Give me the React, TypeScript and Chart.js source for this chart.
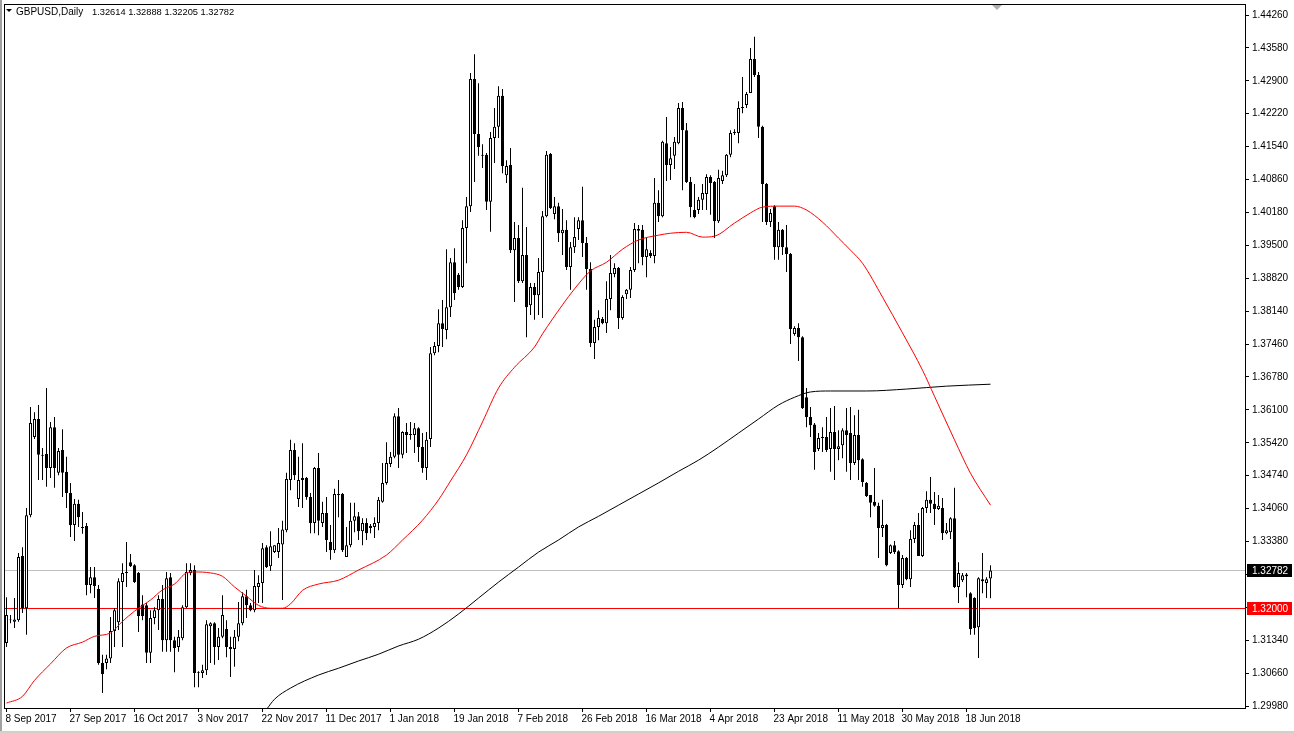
import React, { useEffect, useRef } from 'react';
import { Chart, registerables } from 'chart.js';

Chart.register(...registerables);

const symbolTitle = 'GBPUSD,Daily';
const headerValues = ['1.32614', '1.32888', '1.32205', '1.32782'];

const dateLabels = [
  '8 Sep 2017', '27 Sep 2017', '16 Oct 2017', '3 Nov 2017', '22 Nov 2017', '11 Dec 2017',
  '1 Jan 2018', '19 Jan 2018', '7 Feb 2018', '26 Feb 2018', '16 Mar 2018', '4 Apr 2018',
  '23 Apr 2018', '11 May 2018', '30 May 2018', '18 Jun 2018',
];
const barsPerLabel = 16;

const priceTicks = [
  1.2998, 1.3066, 1.3134, 1.3202, 1.327, 1.3338, 1.3406, 1.3474, 1.3542, 1.361, 1.3678,
  1.3746, 1.3814, 1.3882, 1.395, 1.4018, 1.4086, 1.4154, 1.4222, 1.429, 1.4358, 1.4426,
];

const opens = [
  1.3128, 1.3175, 1.3172, 1.3175, 1.3308, 1.3200, 1.3392, 1.3554, 1.3591, 1.3517,
  1.3519, 1.3490, 1.3574, 1.3480, 1.3527, 1.3482, 1.3438, 1.3372, 1.3416, 1.3368,
  1.3370, 1.3248, 1.3264, 1.3240, 1.3087, 1.3087, 1.3096, 1.3153, 1.3171, 1.3254,
  1.3273, 1.3295, 1.3289, 1.3273, 1.3208, 1.3206, 1.3108, 1.3180, 1.3196, 1.3219,
  1.3134, 1.3264, 1.3134, 1.3120, 1.3138, 1.3202, 1.3273, 1.3279, 1.3068, 1.3066,
  1.3072, 1.3163, 1.3169, 1.3120, 1.3141, 1.3157, 1.3120, 1.3116, 1.3141, 1.3169,
  1.3225, 1.3206, 1.3196, 1.3244, 1.3252, 1.3326, 1.3287, 1.3316, 1.3316, 1.3332,
  1.3361, 1.3465, 1.3527, 1.3426, 1.3465, 1.3469, 1.3430, 1.3376, 1.3490, 1.3376,
  1.3397, 1.3337, 1.3320, 1.3436, 1.3436, 1.3306, 1.3330, 1.3381, 1.3390, 1.3359,
  1.3376, 1.3366, 1.3368, 1.3376, 1.3420, 1.3459, 1.3498, 1.3513, 1.3597, 1.3517,
  1.3564, 1.3558, 1.3558, 1.3572, 1.3533, 1.3490, 1.3550, 1.3727, 1.3742, 1.3789,
  1.3775, 1.3822, 1.3915, 1.3889, 1.3864, 1.3986, 1.4031, 1.4294, 1.4180, 1.4137,
  1.4137, 1.4040, 1.4172, 1.4195, 1.4259, 1.4095, 1.4116, 1.3940, 1.3965, 1.3876,
  1.3930, 1.3826, 1.3864, 1.3847, 1.3895, 1.4010, 1.4139, 1.4015, 1.4031, 1.3975,
  1.3982, 1.3905, 1.3946, 1.3984, 1.4002, 1.3955, 1.3901, 1.3748, 1.3781, 1.3798,
  1.3789, 1.3839, 1.3891, 1.3903, 1.3800, 1.3849, 1.3858, 1.3899, 1.3984, 1.3982,
  1.3926, 1.3934, 1.3928, 1.4038, 1.4010, 1.4161, 1.4116, 1.4135, 1.4161, 1.4234,
  1.4188, 1.4081, 1.4023, 1.4023, 1.4044, 1.4056, 1.4091, 1.4081, 1.4000, 1.4083,
  1.4095, 1.4137, 1.4182, 1.4182, 1.4234, 1.4240, 1.4265, 1.4335, 1.4302, 1.4195,
  1.4077, 1.3998, 1.4031, 1.3946, 1.3982, 1.3946, 1.3932, 1.3767, 1.3779, 1.3760,
  1.3636, 1.3595, 1.3580, 1.3529, 1.3552, 1.3554, 1.3529, 1.3564, 1.3529, 1.3537,
  1.3568, 1.3562, 1.3500, 1.3558, 1.3508, 1.3459, 1.3434, 1.3420, 1.3412, 1.3366,
  1.3372, 1.3314, 1.3330, 1.3318, 1.3248, 1.3304, 1.3260, 1.3343, 1.3372, 1.3308,
  1.3407, 1.3424, 1.3416, 1.3405, 1.3407, 1.3355, 1.3357, 1.3386, 1.3244, 1.3258,
  1.3270, 1.3231, 1.3221, 1.3161, 1.3256, 1.3252, 1.32614,
];
const highs = [
  1.3223, 1.3186, 1.3221, 1.3314, 1.3326, 1.3407, 1.3616, 1.3605, 1.3620, 1.3531,
  1.3655, 1.3585, 1.3595, 1.3531, 1.3570, 1.3513, 1.3459, 1.3426, 1.3424, 1.3399,
  1.3376, 1.3285, 1.3285, 1.3248, 1.3104, 1.3104, 1.3182, 1.3200, 1.3262, 1.3293,
  1.3337, 1.3312, 1.3291, 1.3275, 1.3227, 1.3211, 1.3196, 1.3202, 1.3227, 1.3248,
  1.3275, 1.3273, 1.3141, 1.3155, 1.3206, 1.3293, 1.3293, 1.3289, 1.3070, 1.3083,
  1.3175, 1.3171, 1.3171, 1.3159, 1.3227, 1.3175, 1.3141, 1.3155, 1.3213, 1.3233,
  1.3238, 1.3211, 1.3279, 1.3268, 1.3335, 1.3330, 1.3359, 1.3330, 1.3366, 1.3381,
  1.3480, 1.3548, 1.3541, 1.3513, 1.3541, 1.3471, 1.3438, 1.3492, 1.3521, 1.3420,
  1.3430, 1.3372, 1.3447, 1.3465, 1.3438, 1.3368, 1.3418, 1.3418, 1.3399, 1.3386,
  1.3386, 1.3374, 1.3388, 1.3430, 1.3500, 1.3543, 1.3523, 1.3603, 1.3614, 1.3566,
  1.3583, 1.3585, 1.3583, 1.3574, 1.3562, 1.3564, 1.3740, 1.3750, 1.3818, 1.3837,
  1.3942, 1.3924, 1.3944, 1.3893, 1.4002, 1.4050, 1.4306, 1.4345, 1.4285, 1.4159,
  1.4141, 1.4184, 1.4234, 1.4279, 1.4273, 1.4126, 1.4151, 1.3998, 1.3992, 1.4069,
  1.3988, 1.3872, 1.3872, 1.3924, 1.4021, 1.4145, 1.4141, 1.4050, 1.4038, 1.4025,
  1.4002, 1.3957, 1.4008, 1.4008, 1.4071, 1.3967, 1.3915, 1.3796, 1.3816, 1.3802,
  1.3876, 1.3930, 1.3913, 1.3905, 1.3847, 1.3860, 1.3905, 1.3996, 1.3992, 1.3992,
  1.3967, 1.3940, 1.4089, 1.4064, 1.4166, 1.4215, 1.4153, 1.4174, 1.4244, 1.4246,
  1.4203, 1.4091, 1.4077, 1.4050, 1.4077, 1.4097, 1.4095, 1.4083, 1.4106, 1.4104,
  1.4139, 1.4188, 1.4190, 1.4248, 1.4298, 1.4267, 1.4358, 1.4381, 1.4308, 1.4197,
  1.4079, 1.4025, 1.4033, 1.3998, 1.3984, 1.3992, 1.3934, 1.3783, 1.3789, 1.3762,
  1.3655, 1.3616, 1.3583, 1.3562, 1.3574, 1.3595, 1.3614, 1.3618, 1.3568, 1.3572,
  1.3614, 1.3616, 1.3599, 1.3610, 1.3510, 1.3461, 1.3434, 1.3490, 1.3418, 1.3424,
  1.3374, 1.3332, 1.3339, 1.3320, 1.3310, 1.3306, 1.3361, 1.3378, 1.3397, 1.3409,
  1.3442, 1.3471, 1.3440, 1.3434, 1.3428, 1.3376, 1.3388, 1.3449, 1.3295, 1.3273,
  1.3273, 1.3233, 1.3223, 1.3264, 1.3314, 1.3264, 1.32888,
];
const lows = [
  1.3120, 1.3169, 1.3159, 1.3172, 1.3190, 1.3145, 1.3388, 1.3550, 1.3465, 1.3465,
  1.3451, 1.3469, 1.3449, 1.3475, 1.3430, 1.3407, 1.3347, 1.3339, 1.3368, 1.3354,
  1.3227, 1.3231, 1.3221, 1.3083, 1.3025, 1.3074, 1.3087, 1.3120, 1.3155, 1.3120,
  1.3244, 1.3285, 1.3252, 1.3151, 1.3175, 1.3087, 1.3087, 1.3167, 1.3155, 1.3110,
  1.3110, 1.3110, 1.3068, 1.3110, 1.3134, 1.3200, 1.3268, 1.3037, 1.3037, 1.3056,
  1.3062, 1.3087, 1.3083, 1.3093, 1.3138, 1.3099, 1.3058, 1.3079, 1.3132, 1.3165,
  1.3180, 1.3194, 1.3192, 1.3211, 1.3211, 1.3283, 1.3277, 1.3314, 1.3304, 1.3217,
  1.3357, 1.3444, 1.3465, 1.3409, 1.3407, 1.3424, 1.3355, 1.3355, 1.3351, 1.3368,
  1.3316, 1.3300, 1.3314, 1.3388, 1.3316, 1.3306, 1.3326, 1.3357, 1.3341, 1.3330,
  1.3341, 1.3355, 1.3345, 1.3361, 1.3418, 1.3455, 1.3492, 1.3510, 1.3490, 1.3510,
  1.3521, 1.3548, 1.3521, 1.3502, 1.3480, 1.3465, 1.3533, 1.3723, 1.3729, 1.3740,
  1.3756, 1.3802, 1.3837, 1.3858, 1.3862, 1.3913, 1.4019, 1.4081, 1.4135, 1.4110,
  1.4023, 1.3978, 1.4120, 1.4172, 1.4099, 1.4079, 1.3934, 1.3833, 1.3872, 1.3872,
  1.3760, 1.3806, 1.3796, 1.3806, 1.3800, 1.4008, 1.4025, 1.4004, 1.3957, 1.3930,
  1.3899, 1.3858, 1.3934, 1.3961, 1.3926, 1.3858, 1.3740, 1.3715, 1.3754, 1.3787,
  1.3769, 1.3816, 1.3884, 1.3777, 1.3796, 1.3839, 1.3841, 1.3895, 1.3913, 1.3909,
  1.3884, 1.3924, 1.3913, 1.3998, 1.4008, 1.4083, 1.4085, 1.4108, 1.4159, 1.4064,
  1.4079, 1.4008, 1.4006, 1.4015, 1.4023, 1.4023, 1.4013, 1.3965, 1.3996, 1.4077,
  1.4091, 1.4132, 1.4178, 1.4161, 1.4223, 1.4234, 1.4265, 1.4298, 1.4172, 1.3998,
  1.3992, 1.3988, 1.3920, 1.3920, 1.3930, 1.3895, 1.3746, 1.3763, 1.3711, 1.3612,
  1.3574, 1.3554, 1.3486, 1.3525, 1.3523, 1.3523, 1.3482, 1.3465, 1.3506, 1.3510,
  1.3482, 1.3465, 1.3496, 1.3465, 1.3451, 1.3430, 1.3388, 1.3410, 1.3304, 1.3347,
  1.3287, 1.3312, 1.3312, 1.3200, 1.3242, 1.3258, 1.3244, 1.3335, 1.3308, 1.3306,
  1.3397, 1.3397, 1.3372, 1.3403, 1.3341, 1.3353, 1.3343, 1.3242, 1.3211, 1.3254,
  1.3223, 1.3145, 1.3145, 1.3097, 1.3231, 1.3221, 1.32205,
];
const closes = [
  1.3186, 1.3177, 1.3177, 1.3306, 1.3200, 1.3392, 1.3583, 1.3591, 1.3517, 1.3515,
  1.3490, 1.3574, 1.3490, 1.3525, 1.3480, 1.3438, 1.3372, 1.3416, 1.3388, 1.3366,
  1.3248, 1.3264, 1.3246, 1.3087, 1.3064, 1.3096, 1.3153, 1.3196, 1.3256, 1.3273,
  1.3275, 1.3287, 1.3254, 1.3184, 1.3184, 1.3108, 1.3180, 1.3196, 1.3219, 1.3134,
  1.3262, 1.3134, 1.3118, 1.3141, 1.3202, 1.3275, 1.3279, 1.3066, 1.3066, 1.3072,
  1.3167, 1.3169, 1.3120, 1.3141, 1.3186, 1.3120, 1.3116, 1.3141, 1.3169, 1.3225,
  1.3206, 1.3196, 1.3246, 1.3252, 1.3324, 1.3285, 1.3328, 1.3330, 1.3335, 1.3363,
  1.3467, 1.3527, 1.3475, 1.3465, 1.3469, 1.3430, 1.3376, 1.3490, 1.3381, 1.3397,
  1.3341, 1.3320, 1.3436, 1.3434, 1.3320, 1.3330, 1.3381, 1.3390, 1.3359, 1.3376,
  1.3355, 1.3370, 1.3376, 1.3424, 1.3459, 1.3500, 1.3513, 1.3597, 1.3517, 1.3564,
  1.3558, 1.3560, 1.3572, 1.3533, 1.3490, 1.3548, 1.3727, 1.3742, 1.3789, 1.3777,
  1.3822, 1.3915, 1.3851, 1.3864, 1.3986, 1.4031, 1.4294, 1.4180, 1.4153, 1.4135,
  1.4040, 1.4172, 1.4195, 1.4259, 1.4114, 1.4114, 1.3940, 1.3965, 1.3876, 1.3930,
  1.3822, 1.3864, 1.3847, 1.3895, 1.4010, 1.4137, 1.4027, 1.4031, 1.3975, 1.3982,
  1.3905, 1.3946, 1.3967, 1.4002, 1.3955, 1.3901, 1.3748, 1.3781, 1.3800, 1.3789,
  1.3839, 1.3893, 1.3903, 1.3800, 1.3843, 1.3858, 1.3899, 1.3984, 1.3980, 1.3926,
  1.3942, 1.3928, 1.4038, 1.4010, 1.4164, 1.4116, 1.4130, 1.4164, 1.4234, 1.4188,
  1.4081, 1.4029, 1.4008, 1.4044, 1.4058, 1.4091, 1.4079, 1.4000, 1.4089, 1.4095,
  1.4137, 1.4182, 1.4184, 1.4234, 1.4236, 1.4263, 1.4335, 1.4302, 1.4195, 1.4077,
  1.3998, 1.4017, 1.3946, 1.3982, 1.3946, 1.3932, 1.3777, 1.3779, 1.3760, 1.3614,
  1.3595, 1.3578, 1.3523, 1.3552, 1.3554, 1.3527, 1.3564, 1.3529, 1.3535, 1.3568,
  1.3558, 1.3500, 1.3558, 1.3506, 1.3461, 1.3432, 1.3418, 1.3412, 1.3366, 1.3372,
  1.3289, 1.3330, 1.3316, 1.3248, 1.3304, 1.3260, 1.3343, 1.3372, 1.3308, 1.3407,
  1.3424, 1.3416, 1.3405, 1.3412, 1.3355, 1.3361, 1.3386, 1.3244, 1.3273, 1.3268,
  1.3266, 1.3157, 1.3159, 1.3262, 1.3260, 1.3260, 1.32782,
];

// Moving averages at sample bars
const fastMaBars = [
  0, 4, 7, 11, 15, 19, 22, 26, 29, 32, 36, 39, 42, 45, 47, 51, 54, 57, 60, 63, 66, 69, 71, 74,
  78, 83, 88, 95, 99, 104, 108, 111, 115, 119, 123, 127, 132, 134, 139, 142, 146, 150, 154,
  158, 163, 166, 170, 174, 177, 182, 186, 189, 193, 197, 200, 204, 208, 211, 214, 219, 224,
  229, 232, 237, 241, 246,
];
const fastMaValues = [
  1.3004, 1.3018, 1.3051, 1.3085, 1.3118, 1.3130, 1.3142, 1.3149, 1.3173, 1.3194, 1.3217,
  1.3238, 1.3250, 1.3273, 1.3275, 1.3273, 1.3266, 1.3244, 1.3225, 1.3206, 1.3200, 1.3200,
  1.3209, 1.3237, 1.3250, 1.3258, 1.3279, 1.3310, 1.3341, 1.3382, 1.3424, 1.3463, 1.3517,
  1.3585, 1.3655, 1.3698, 1.3740, 1.3767, 1.3827, 1.3860, 1.3897, 1.3915, 1.3942, 1.3961,
  1.3971, 1.3975, 1.3977, 1.3967, 1.3969, 1.3996, 1.4017, 1.4029, 1.4031, 1.4031, 1.4023,
  1.3998, 1.3965, 1.3940, 1.3913, 1.3843, 1.3769, 1.3692, 1.3638, 1.3548, 1.3479, 1.3413,
];
const slowMaBars = [
  65, 67, 71, 78, 83, 88, 93, 98, 103, 108, 113, 118, 123, 128, 133, 138, 143, 148, 153, 158,
  163, 168, 173, 178, 183, 188, 193, 197, 201, 206, 215, 225, 235, 246,
];
const slowMaValues = [
  1.2991, 1.3012, 1.3035, 1.3062, 1.3076, 1.3091, 1.3105, 1.3122, 1.3136, 1.3159, 1.3188,
  1.3221, 1.3254, 1.3285, 1.3316, 1.3341, 1.3368, 1.3390, 1.3413, 1.3436, 1.3459, 1.3483,
  1.3506, 1.3533, 1.3562, 1.3591, 1.3620, 1.3636, 1.3647, 1.3649, 1.3649, 1.3653, 1.3659,
  1.3663,
];

const bidPrice = 1.32782;
const levelPrice = 1.32;

const X_MIN = -0.375;
const X_MAX = 309.625;
const Y_MIN = 1.299387;
const Y_MAX = 1.444667;
const FONT = '"Liberation Sans", Arial, sans-serif';

const overlayPlugin = {
  id: 'mt4overlay',
  beforeDraw(chart: any) {
    const { ctx, width, height } = chart;
    ctx.save();
    ctx.fillStyle = '#ffffff';
    ctx.fillRect(0, 0, width, height);
    ctx.restore();
  },
  beforeDatasetsDraw(chart: any) {
    const { ctx, chartArea, scales } = chart;
    const y = scales.y;
    ctx.save();
    const yb = Math.round(y.getPixelForValue(bidPrice)) + 0.5;
    ctx.strokeStyle = '#c0c0c0';
    ctx.lineWidth = 1;
    ctx.beginPath();
    ctx.moveTo(chartArea.left, yb);
    ctx.lineTo(chartArea.right, yb);
    ctx.stroke();
    const yl = Math.round(y.getPixelForValue(levelPrice)) + 0.5;
    ctx.strokeStyle = '#ff0000';
    ctx.beginPath();
    ctx.moveTo(chartArea.left, yl);
    ctx.lineTo(chartArea.right, yl);
    ctx.stroke();
    ctx.restore();
  },
  afterDraw(chart: any) {
    const { ctx, chartArea, scales, width, height } = chart;
    const y = scales.y;
    ctx.save();
    // frame
    ctx.strokeStyle = '#000000';
    ctx.lineWidth = 1;
    ctx.strokeRect(chartArea.left - 0.5, chartArea.top - 0.5, chartArea.right - chartArea.left + 1, chartArea.bottom - chartArea.top + 1);
    // window edge
    ctx.fillStyle = '#a0a0a0';
    ctx.fillRect(0, 0, 2, height);
    ctx.fillStyle = '#d4d0c8';
    ctx.fillRect(0, height - 2, width, 2);
    // header
    ctx.fillStyle = '#000000';
    ctx.beginPath();
    ctx.moveTo(6, 9);
    ctx.lineTo(12, 9);
    ctx.lineTo(9, 12);
    ctx.closePath();
    ctx.fill();
    ctx.textBaseline = 'middle';
    ctx.textAlign = 'left';
    ctx.font = '10px ' + FONT;
    ctx.fillText(symbolTitle, 16, 12);
    ctx.font = '9.3px ' + FONT;
    ctx.fillText(headerValues.join(' '), 92, 12);
    // shift marker
    ctx.fillStyle = '#b0b0b0';
    ctx.beginPath();
    ctx.moveTo(992, 5);
    ctx.lineTo(1002, 5);
    ctx.lineTo(997, 10);
    ctx.closePath();
    ctx.fill();
    // price boxes
    ctx.font = '10px ' + FONT;
    const boxes = [
      { v: bidPrice, bg: '#000000', text: bidPrice.toFixed(5) },
      { v: levelPrice, bg: '#ff0000', text: levelPrice.toFixed(5) },
    ];
    for (const b of boxes) {
      const py = Math.round(y.getPixelForValue(b.v));
      ctx.fillStyle = b.bg;
      ctx.fillRect(chartArea.right + 2, py - 6, 45, 13);
      ctx.fillStyle = '#ffffff';
      ctx.fillText(b.text, chartArea.right + 7, py + 1);
    }
    ctx.restore();
  },
};

export default function App() {
  const canvasRef = useRef<HTMLCanvasElement | null>(null);

  useEffect(() => {
    document.body.style.margin = '0';
    document.body.style.overflow = 'hidden';
    const canvas = canvasRef.current;
    if (!canvas) return;

    const wickData = opens.map((_, i) => ({ x: i, y: [lows[i], highs[i]] }));
    const bodyData = opens.map((o, i) => ({ x: i, y: [o, closes[i]] }));
    const bodyColors = opens.map((o, i) => (closes[i] >= o ? '#ffffff' : '#000000'));

    const chart = new Chart(canvas, {
      type: 'bar',
      data: {
        datasets: [
          {
            type: 'line',
            data: fastMaBars.map((b, k) => ({ x: b, y: fastMaValues[k] })),
            borderColor: '#ff0000',
            borderWidth: 1,
            pointRadius: 0,
            cubicInterpolationMode: 'monotone',
            order: 0,
          } as any,
          {
            type: 'line',
            data: slowMaBars.map((b, k) => ({ x: b, y: slowMaValues[k] })),
            borderColor: '#000000',
            borderWidth: 1,
            pointRadius: 0,
            cubicInterpolationMode: 'monotone',
            order: 0,
          } as any,
          {
            type: 'bar',
            data: bodyData,
            backgroundColor: bodyColors,
            borderColor: '#000000',
            borderWidth: 1,
            borderSkipped: false,
            barThickness: 3,
            grouped: false,
            inflateAmount: 0,
            order: 1,
          } as any,
          {
            type: 'bar',
            data: wickData,
            backgroundColor: '#000000',
            borderWidth: 0,
            barThickness: 1,
            grouped: false,
            inflateAmount: 0,
            order: 2,
          } as any,
        ],
      },
      plugins: [overlayPlugin],
      options: {
        animation: false,
        responsive: false,
        devicePixelRatio: 1,
        layout: { padding: { left: 5, top: 5, right: 0, bottom: 0 } },
        plugins: { legend: { display: false }, tooltip: { enabled: false } },
        scales: {
          x: {
            type: 'linear',
            min: X_MIN,
            max: X_MAX,
            offset: false,
            afterBuildTicks: (scale: any) => {
              scale.ticks = dateLabels.map((_, k) => ({ value: k * barsPerLabel }));
            },
            afterFit: (scale: any) => {
              scale.height = 25;
              scale.paddingLeft = 0;
              scale.paddingRight = 0;
              scale.paddingTop = 0;
              scale.paddingBottom = 0;
            },
            ticks: {
              autoSkip: false,
              maxRotation: 0,
              minRotation: 0,
              align: 'start',
              labelOffset: -1,
              padding: 1,
              color: '#000000',
              font: { family: FONT, size: 10 },
              callback: (value: any) => {
                const k = Math.round(Number(value) / barsPerLabel);
                return dateLabels[k] ?? '';
              },
            },
            grid: { drawOnChartArea: false, drawTicks: true, tickLength: 4, color: '#000000', offset: false },
            border: { display: false },
          },
          y: {
            type: 'linear',
            position: 'right',
            min: Y_MIN,
            max: Y_MAX,
            afterBuildTicks: (scale: any) => {
              scale.ticks = priceTicks.map((v) => ({ value: v }));
            },
            afterFit: (scale: any) => {
              scale.width = 49;
              scale.paddingLeft = 0;
              scale.paddingRight = 0;
              scale.paddingTop = 0;
              scale.paddingBottom = 0;
            },
            ticks: {
              padding: 3,
              color: '#000000',
              font: { family: FONT, size: 10 },
              callback: (value: any) => Number(value).toFixed(5),
            },
            grid: { drawOnChartArea: false, drawTicks: true, tickLength: 4, color: '#000000' },
            border: { display: false },
          },
        },
      } as any,
    });

    return () => {
      chart.destroy();
    };
  }, []);

  return (
    <canvas
      ref={canvasRef}
      width={1294}
      height={733}
      style={{ display: 'block', width: '1294px', height: '733px' }}
    />
  );
}
